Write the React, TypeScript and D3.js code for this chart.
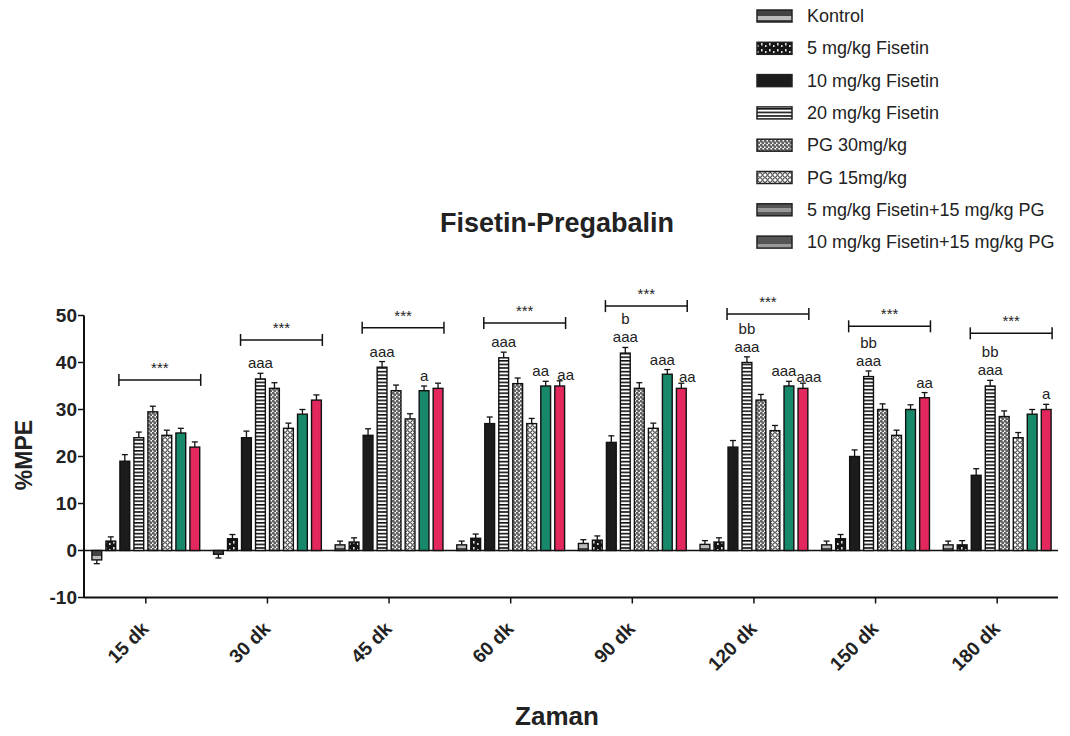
import React from "react";
import * as d3 from "d3";

// time points (groups) and treatment series
const groups = ["15 dk", "30 dk", "45 dk", "60 dk", "90 dk", "120 dk", "150 dk", "180 dk"];
const seriesNames = [
  "Kontrol",
  "5 mg/kg Fisetin",
  "10 mg/kg Fisetin",
  "20 mg/kg Fisetin",
  "PG 30mg/kg",
  "PG 15mg/kg",
  "5 mg/kg Fisetin+15 mg/kg PG",
  "10 mg/kg Fisetin+15 mg/kg PG",
];

// %MPE values per series, one per time point
const kontrol = [-2, -0.8, 1.2, 1.2, 1.5, 1.3, 1.2, 1.2];
const fis5 = [2, 2.5, 1.8, 2.6, 2.2, 1.8, 2.5, 1.2];
const fis10 = [19, 24, 24.5, 27, 23, 22, 20, 16];
const fis20 = [24, 36.5, 39, 41, 42, 40, 37, 35];
const pg30 = [29.5, 34.5, 34, 35.5, 34.5, 32, 30, 28.5];
const pg15 = [24.5, 26, 28, 27, 26, 25.5, 24.5, 24];
const combo5 = [25, 29, 34, 35, 37.5, 35, 30, 29];
const combo10 = [22, 32, 34.5, 35, 34.5, 34.5, 32.5, 30];
const seriesValues = [kontrol, fis5, fis10, fis20, pg30, pg15, combo5, combo10];

// error (SEM) per series
const sem = [0.8, 0.9, 1.4, 1.2, 1.2, 1.1, 1.0, 1.1];

// significance brackets (*** over bars 10 mg .. combo 10), height in %MPE
const bracketLevels = [36.3, 44.8, 47.4, 48.4, 52, 50.3, 47.7, 46.2];

// letter annotations: [group, series, lines]
const letters: [number, number, string[]][] = [
  [1, 3, ["aaa"]],
  [2, 3, ["aaa"]],
  [2, 6, ["a"]],
  [3, 3, ["aaa"]],
  [3, 6, ["aa"]],
  [3, 7, ["aa"]],
  [4, 3, ["b", "aaa"]],
  [4, 6, ["aaa"]],
  [4, 7, ["aa"]],
  [5, 3, ["bb", "aaa"]],
  [5, 6, ["aaa"]],
  [5, 7, ["aaa"]],
  [6, 3, ["bb", "aaa"]],
  [6, 7, ["aa"]],
  [7, 3, ["bb", "aaa"]],
  [7, 7, ["a"]],
];

const yTicks = [-10, 0, 10, 20, 30, 40, 50];

const FONT = "'Liberation Sans', Arial, Helvetica, sans-serif";

const barFills = [
  "url(#pKontrol)",
  "url(#pFis5)",
  "#1c1c1c",
  "url(#pStripes)",
  "url(#pCheck)",
  "url(#pCircles)",
  "#17886a",
  "#e3285e",
];
const legendFills = [
  "url(#pKontrol)",
  "url(#pFis5)",
  "#1c1c1c",
  "url(#pStripes)",
  "url(#pCheck)",
  "url(#pCircles)",
  "url(#pGrayA)",
  "url(#pGrayA)",
];

export default function App() {
  const width = 1070;
  const height = 736;

  const x0 = d3.scaleBand<string>().domain(groups).range([85, 1058]).padding(0);
  const bw = x0.bandwidth();
  const x1 = d3
    .scaleBand<string>()
    .domain(seriesNames)
    .range([(bw - 112) / 2, (bw + 112) / 2])
    .paddingInner(0.3)
    .paddingOuter(0.15);
  const y = d3.scaleLinear().domain([-10, 50]).range([597.5, 315.5]);

  const barX = (g: number, s: number) => (x0(groups[g]) as number) + (x1(seriesNames[s]) as number);
  const barW = x1.bandwidth();

  // when both combination bars carry letters, spread the labels apart
  const pairLabelled = (g: number) =>
    letters.some(([gg, ss]) => gg === g && ss === 6) && letters.some(([gg, ss]) => gg === g && ss === 7);

  return (
    <svg
      width={width}
      height={height}
      style={{ position: "absolute", left: 0, top: 0, background: "#fff" }}
      fontFamily={FONT}
    >
      <defs>
        <pattern id="pStripes" width="6" height="3.6" patternUnits="userSpaceOnUse">
          <rect width="6" height="3.6" fill="#fff" />
          <rect width="6" height="1.6" fill="#111" />
        </pattern>
        <pattern id="pCheck" width="4" height="4" patternUnits="userSpaceOnUse">
          <rect width="4" height="4" fill="#fff" />
          <circle cx="1" cy="1" r="1.1" fill="none" stroke="#111" strokeWidth="0.9" />
          <circle cx="3" cy="3" r="1.1" fill="none" stroke="#111" strokeWidth="0.9" />
        </pattern>
        <pattern id="pCircles" width="5" height="5" patternUnits="userSpaceOnUse">
          <rect width="5" height="5" fill="#fff" />
          <circle cx="2.5" cy="2.5" r="1.8" fill="none" stroke="#111" strokeWidth="1" />
        </pattern>
        <pattern id="pFis5" width="8" height="6" patternUnits="userSpaceOnUse">
          <rect width="8" height="6" fill="#151515" />
          <rect x="1" y="1" width="1.6" height="2.5" fill="#ddd" />
          <rect x="5" y="3" width="1.6" height="2" fill="#ddd" />
        </pattern>
        <pattern id="pKontrol" width="6" height="12" patternUnits="userSpaceOnUse">
          <rect width="6" height="12" fill="#444" />
          <rect y="4" width="6" height="4" fill="#bbb" />
        </pattern>
        <pattern id="pGrayA" width="6" height="12" patternUnits="userSpaceOnUse">
          <rect width="6" height="12" fill="#555" />
          <rect y="4" width="6" height="4" fill="#999" />
        </pattern>
      </defs>

      {/* title */}
      <text x={557} y={232} textAnchor="middle" fontSize={27} fontWeight="bold" fill="#222">
        Fisetin-Pregabalin
      </text>

      {/* legend */}
      {seriesNames.map((name, i) => {
        const cy = 16 + i * 32.3;
        return (
          <g key={name}>
            <rect x={757} y={cy - 6} width={35} height={12} fill={legendFills[i]} stroke="#222" strokeWidth={1.5} />
            <text x={807} y={cy + 6} fontSize={18} fill="#222">
              {name}
            </text>
          </g>
        );
      })}

      {/* zero baseline */}
      <line x1={85} x2={1058} y1={y(0)} y2={y(0)} stroke="#111" strokeWidth={1.5} />

      {/* bars */}
      {seriesValues.map((vals, s) =>
        vals.map((v, g) => {
          const top = y(Math.max(0, v));
          const bottom = y(Math.min(0, v));
          const cx = barX(g, s) + barW / 2;
          const errEnd = v >= 0 ? y(v + sem[s]) : y(v - sem[s]);
          return (
            <g key={`${s}-${g}`}>
              <line x1={cx} x2={cx} y1={v >= 0 ? top : bottom} y2={errEnd} stroke="#111" strokeWidth={1.3} />
              <line x1={cx - 3} x2={cx + 3} y1={errEnd} y2={errEnd} stroke="#111" strokeWidth={1.3} />
              <rect
                x={barX(g, s)}
                y={top}
                width={barW}
                height={Math.max(0.5, bottom - top)}
                fill={barFills[s]}
                stroke="#111"
                strokeWidth={1.4}
              />
            </g>
          );
        })
      )}

      {/* significance brackets */}
      {bracketLevels.map((lvl, g) => {
        const xa = barX(g, 2) - 1;
        const xb = barX(g, 7) + barW + 1;
        const yy = y(lvl);
        return (
          <g key={`br-${g}`} stroke="#111" strokeWidth={1.5}>
            <line x1={xa} x2={xb} y1={yy} y2={yy} />
            <line x1={xa} x2={xa} y1={yy - 6} y2={yy + 6} />
            <line x1={xb} x2={xb} y1={yy - 6} y2={yy + 6} />
            <text x={(xa + xb) / 2} y={yy - 7} textAnchor="middle" fontSize={15} stroke="none" fill="#222">
              ***
            </text>
          </g>
        );
      })}

      {/* letters */}
      {letters.map(([g, s, lines], i) => {
        const v = seriesValues[s][g];
        const pair = pairLabelled(g);
        const dx = pair ? (s === 6 ? -5 : s === 7 ? 6 : 0) : 0;
        const dy = pair && s === 7 ? 4 : 0;
        const base = y(v + sem[s]) - 5 + dy;
        const cx = barX(g, s) + barW / 2 + dx;
        return (
          <text key={`lt-${i}`} x={cx} textAnchor="middle" fontSize={15} fill="#222">
            {lines.map((ln, k) => (
              <tspan key={k} x={cx} y={base - (lines.length - 1 - k) * 18}>
                {ln}
              </tspan>
            ))}
          </text>
        );
      })}

      {/* y axis */}
      <line x1={84} x2={84} y1={y(50)} y2={y(-10)} stroke="#111" strokeWidth={2} />
      {yTicks.map((t) => (
        <g key={t}>
          <line x1={78} x2={84} y1={y(t)} y2={y(t)} stroke="#111" strokeWidth={1.5} />
          <text x={77} y={y(t) + 6.5} textAnchor="end" fontSize={19} fontWeight="bold" fill="#222">
            {t}
          </text>
        </g>
      ))}
      <text
        transform={`translate(32, 455) rotate(-90)`}
        textAnchor="middle"
        fontSize={23}
        fontWeight="bold"
        fill="#222"
      >
        %MPE
      </text>

      {/* x axis */}
      <line x1={84} x2={1058} y1={y(-10)} y2={y(-10)} stroke="#111" strokeWidth={2} />
      {groups.map((g) => {
        const cx = (x0(g) as number) + bw / 2;
        return (
          <g key={g}>
            <line x1={cx} x2={cx} y1={y(-10)} y2={y(-10) + 6} stroke="#111" strokeWidth={1.5} />
            <text
              transform={`translate(${cx + 4}, 630) rotate(-45)`}
              textAnchor="end"
              fontSize={19}
              fontWeight="bold"
              fill="#222"
            >
              {g}
            </text>
          </g>
        );
      })}
      <text x={557} y={725} textAnchor="middle" fontSize={26} fontWeight="bold" fill="#222">
        Zaman
      </text>
    </svg>
  );
}
